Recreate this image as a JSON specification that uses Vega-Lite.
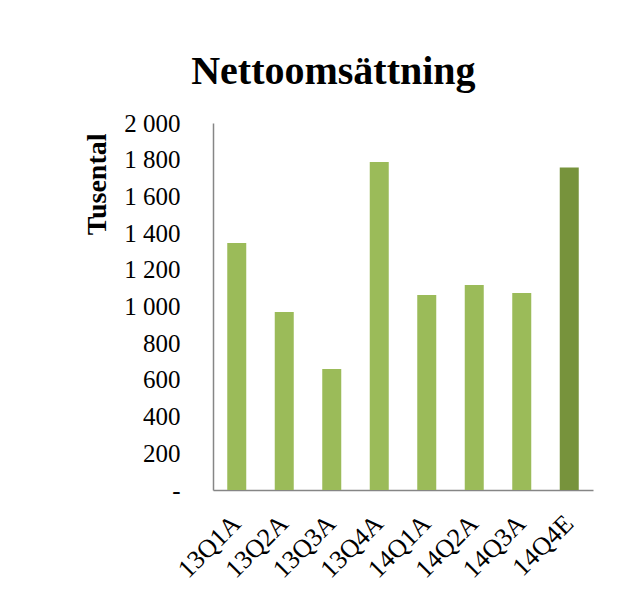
{
  "$schema": "https://vega.github.io/schema/vega-lite/v6.json",
  "width": 380,
  "height": 367,
  "autosize": {"type": "none"},
  "padding": {"left": 213, "top": 123, "right": 51, "bottom": 106},
  "background": "white",
  "title": {
    "text": "Nettoomsättning",
    "font": "Liberation Serif",
    "fontSize": 40,
    "fontWeight": "bold",
    "color": "#000000",
    "anchor": "middle",
    "frame": "bounds",
    "offset": 19,
    "dx": -5
  },
  "data": {
    "values": [
      {"kvartal": "13Q1A", "varde": 1346, "typ": "Utfall"},
      {"kvartal": "13Q2A", "varde": 970, "typ": "Utfall"},
      {"kvartal": "13Q3A", "varde": 659, "typ": "Utfall"},
      {"kvartal": "13Q4A", "varde": 1787, "typ": "Utfall"},
      {"kvartal": "14Q1A", "varde": 1063, "typ": "Utfall"},
      {"kvartal": "14Q2A", "varde": 1117, "typ": "Utfall"},
      {"kvartal": "14Q3A", "varde": 1074, "typ": "Utfall"},
      {"kvartal": "14Q4E", "varde": 1757, "typ": "Estimat"}
    ]
  },
  "mark": {"type": "bar"},
  "encoding": {
    "x": {
      "field": "kvartal",
      "type": "nominal",
      "sort": null,
      "scale": {"paddingInner": 0.6, "paddingOuter": 0.3},
      "axis": {
        "title": null,
        "labelAngle": -45,
        "labelAlign": "right",
        "labelBaseline": "middle",
        "labelPadding": 29,
        "labelFont": "Liberation Serif",
        "labelFontSize": 26,
        "labelColor": "#000000",
        "ticks": false,
        "domainColor": "#868686",
        "domainWidth": 1.5
      }
    },
    "y": {
      "field": "varde",
      "type": "quantitative",
      "scale": {"domain": [0, 2000], "nice": false},
      "axis": {
        "title": "Tusental",
        "titleFont": "Liberation Serif",
        "titleFontSize": 28,
        "titleFontWeight": "bold",
        "titleColor": "#000000",
        "titlePadding": 12,
        "titleAnchor": "end",
        "titleAlign": "right",
        "titleY": 10,
        "values": [0, 200, 400, 600, 800, 1000, 1200, 1400, 1600, 1800, 2000],
        "labelExpr": "datum.value == 0 ? '-' : replace(format(datum.value, ','), ',', ' ')",
        "labelFont": "Liberation Serif",
        "labelFontSize": 25,
        "labelColor": "#000000",
        "labelPadding": 33,
        "ticks": false,
        "grid": false,
        "domainColor": "#868686",
        "domainWidth": 1.5
      }
    },
    "color": {
      "field": "typ",
      "type": "nominal",
      "scale": {"domain": ["Utfall", "Estimat"], "range": ["#9BBB59", "#77933C"]},
      "legend": null
    }
  },
  "config": {
    "view": {"stroke": null}
  }
}
